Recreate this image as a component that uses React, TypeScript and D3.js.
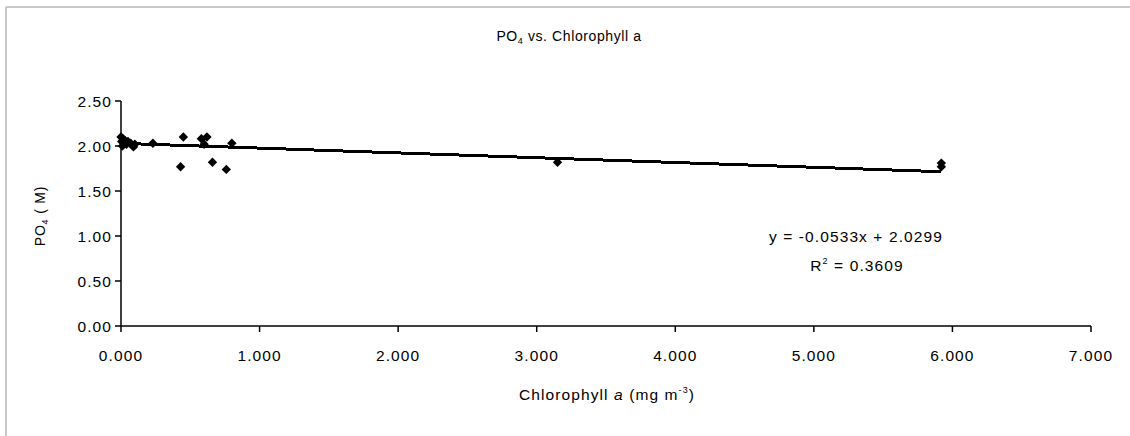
import React from "react";
import * as d3 from "d3";

// Chlorophyll a (mg m^-3) vs PO4 (µM) samples
const chlorophyll = [
  0.0, 0.005, 0.01, 0.015, 0.02, 0.03, 0.04, 0.05, 0.07, 0.09, 0.1,
  0.23, 0.43, 0.45, 0.58, 0.6, 0.62, 0.66, 0.76, 0.8, 3.15, 5.92, 5.92,
];
const po4 = [
  2.1, 2.05, 2.0, 2.08, 2.03, 2.06, 2.02, 2.05, 2.03, 1.99, 2.02,
  2.03, 1.77, 2.1, 2.08, 2.02, 2.1, 1.82, 1.74, 2.03, 1.82, 1.81, 1.77,
];
const xTicks = [0, 1, 2, 3, 4, 5, 6, 7];
const yTicks = [0, 0.5, 1, 1.5, 2, 2.5];
const slope = -0.0533;
const intercept = 2.0299;
const rSquared = 0.3609;

const W = 1130;
const H = 436;
const FONT = "'Liberation Sans', Arial, sans-serif";
const FS = 15.5;
const LS = 1.1;

export default function App() {
  const x = d3.scaleLinear().domain([0, 7]).range([121, 1091]);
  const y = d3.scaleLinear().domain([0, 2.5]).range([326, 101]);
  // square turned 45° gives an even diamond marker
  const marker = d3.symbol().type(d3.symbolSquare).size(44)();
  const xMax = d3.max(chlorophyll) as number;
  const trend = d3
    .line<number>()
    .x((d) => x(d))
    .y((d) => y(slope * d + intercept))([0, xMax]);
  const fx = d3.format(".3f");
  const fy = d3.format(".2f");

  return (
    <div style={{ position: "absolute", left: 0, top: 0 }}>
      <svg width={W} height={H} style={{ display: "block", background: "#fff" }} fontFamily={FONT}>
        {/* outer frame */}
        <line x1={6} y1={7} x2={W} y2={7} stroke="#c8c8c8" strokeWidth={2} />
        <line x1={6} y1={7} x2={6} y2={H} stroke="#c8c8c8" strokeWidth={2} />

        {/* title */}
        <text x={569} y={41} textAnchor="middle" fontSize={14} letterSpacing={0.6}>
          PO<tspan fontSize={9} dy={3}>4</tspan>
          <tspan dy={-3}> vs. Chlorophyll a</tspan>
        </text>

        {/* y axis */}
        <line x1={x(0)} y1={y(2.5)} x2={x(0)} y2={y(0)} stroke="#000" strokeWidth={1.5} />
        {yTicks.map((t) => (
          <g key={"y" + t}>
            <line x1={x(0) - 6} x2={x(0)} y1={y(t)} y2={y(t)} stroke="#000" strokeWidth={1.5} />
            <text x={x(0) - 9} y={y(t) + 5.5} textAnchor="end" fontSize={FS} letterSpacing={LS}>
              {fy(t)}
            </text>
          </g>
        ))}

        {/* x axis */}
        <line x1={x(0)} y1={y(0)} x2={x(7)} y2={y(0)} stroke="#000" strokeWidth={1.5} />
        {xTicks.map((t) => (
          <g key={"x" + t}>
            <line x1={x(t)} x2={x(t)} y1={y(0)} y2={y(0) + 6} stroke="#000" strokeWidth={1.5} />
            <text x={x(t)} y={y(0) + 35} textAnchor="middle" fontSize={FS} letterSpacing={LS}>
              {fx(t)}
            </text>
          </g>
        ))}

        {/* axis titles */}
        <text x={607} y={400} textAnchor="middle" fontSize={FS} letterSpacing={LS}>
          Chlorophyll <tspan fontStyle="italic">a</tspan>{" "}(mg m
          <tspan fontSize={9} dy={-7}>-3</tspan>
          <tspan dy={7}>)</tspan>
        </text>
        <text transform={`translate(45,${216}) rotate(-90)`} textAnchor="middle" fontSize={14} letterSpacing={0.8}>
          PO<tspan fontSize={9} dy={3}>4</tspan>
          <tspan dy={-3}> (  M)</tspan>
        </text>

        {/* linear trend line */}
        <path d={trend ?? ""} fill="none" stroke="#000" strokeWidth={3} shapeRendering="crispEdges" />

        {/* data points */}
        {chlorophyll.map((c, i) => (
          <path key={i} d={marker ?? ""} transform={`translate(${x(c)},${y(po4[i])}) rotate(45)`} fill="#000" />
        ))}

        {/* regression equation */}
        <text x={856} y={242} textAnchor="middle" fontSize={FS} letterSpacing={LS}>
          y = -0.0533x + 2.0299
        </text>
        <text x={857} y={271} textAnchor="middle" fontSize={FS} letterSpacing={LS}>
          R<tspan fontSize={9} dy={-7}>2</tspan>
          <tspan dy={7}> = {rSquared.toFixed(4)}</tspan>
        </text>
      </svg>
    </div>
  );
}
